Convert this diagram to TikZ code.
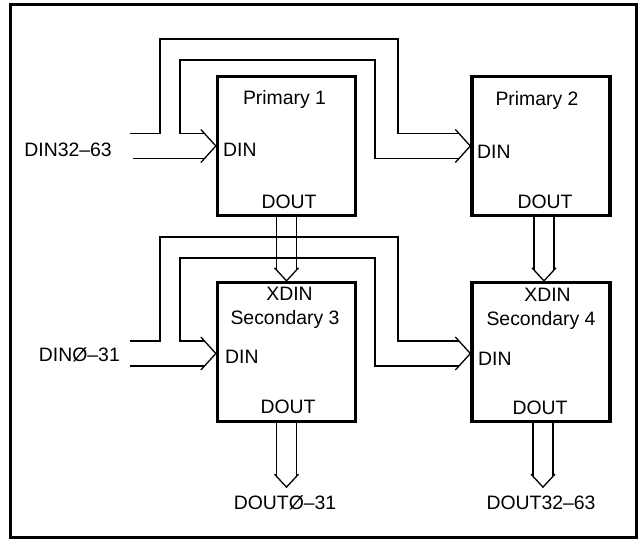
\documentclass[tikz,border=0pt]{standalone}
\usepackage{fontspec}
\setmainfont{Liberation Sans}
\usetikzlibrary{calc}

\tikzset{
  unit/.style={draw, line width=3.3pt, minimum width=138pt, minimum height=139pt, inner sep=0pt},
  lbl/.style={inner sep=0pt, font=\fontsize{19.4pt}{23pt}\selectfont},
  bus/.style={line width=1.3pt},
  frame/.style={line width=2.5pt}
}
% open arrow heads of the buses
\newcommand{\headE}[1]{\draw[bus] ($(#1)+(-15,-16.5)$) -- (#1) -- ($(#1)+(-15,16.5)$);}
\newcommand{\headS}[1]{\draw[bus] ($(#1)+(-12,-13)$) -- (#1) -- ($(#1)+(12,-13)$);}

\begin{document}
\begin{tikzpicture}[x=1pt, y=-1pt]
    \useasboundingbox (0,0) rectangle (641,539);
    \draw[frame] (10.5,4.7) rectangle (636.7,537.5);
    % Units
    \node[unit] (p1) at (286.5,146) {};
    \node[unit] (p2) at (541,146) {};
    \node[unit] (s3) at (286.5,352) {};
    \node[unit] (s4) at (541,352) {};
    % Labels
    \node[lbl, anchor=base] (p1name) at (284.5,104) {Primary 1};
    \node[lbl, anchor=base] (p2name) at (537,105) {Primary 2};
    \node[lbl, anchor=base west] (p1din) at (223,156) {DIN};
    \node[lbl, anchor=base west] (p2din) at (477,158) {DIN};
    \node[lbl, anchor=base] (p1dout) at (289,208) {DOUT};
    \node[lbl, anchor=base] (p2dout) at (545,208) {DOUT};
    \node[lbl, anchor=base] (s3xdin) at (289.5,300) {XDIN};
    \node[lbl, anchor=base] (s4xdin) at (547.5,301) {XDIN};
    \node[lbl, anchor=base] (s3name) at (285,324) {Secondary 3};
    \node[lbl, anchor=base] (s4name) at (541,325) {Secondary 4};
    \node[lbl, anchor=base west] (s3din) at (225,363) {DIN};
    \node[lbl, anchor=base west] (s4din) at (478,365) {DIN};
    \node[lbl, anchor=base] (s3dout) at (288,413) {DOUT};
    \node[lbl, anchor=base] (s4dout) at (540,414) {DOUT};
    \node[lbl, anchor=base east] (dinhi) at (112,156) {DIN32–63};
    \node[lbl, anchor=base east] (dinlo) at (120,361) {DINØ–31};
    \node[lbl, anchor=base] (doutlo) at (285,509) {DOUTØ–31};
    \node[lbl, anchor=base] (douthi) at (541,509) {DOUT32–63};
    % Bus end points
    \coordinate (p1in) at (p1.west);
    \coordinate (p2in) at (p2.west);
    \coordinate (s3in) at ([yshift=-1.5pt]s3.west);
    \coordinate (s4in) at ([yshift=-1.5pt]s4.west);
    \coordinate (p1out) at (p1.south);
    \coordinate (p2out) at ([xshift=3pt]p2.south);
    \coordinate (s3top) at (s3.north);
    \coordinate (s4top) at ([xshift=3pt]s4.north);
    \coordinate (s3out) at (s3.south);
    \coordinate (s4out) at ([xshift=2pt]s4.south);
    \coordinate (s3end) at ([yshift=-64pt]s3out);
    \coordinate (s4end) at ([yshift=-64pt]s4out);
    \coordinate (dinhia) at (130,133.5);
    \coordinate (dinhib) at (133,158.5);
    \coordinate (dinloa) at (130,341);
    \coordinate (dinlob) at (130,366);
    % DIN32-63 bus
    \draw[bus] (dinhia) -- (160,133.5) |- (398,39) |- ($(p2in)+(-11.4,-12.5)$);
    \draw[bus] ($(p1in)+(-11.4,-12.5)$) -| (180,60) -- (375,60) |- ($(p2in)+(-11.4,12.5)$);
    \draw[bus] (dinhib) -- ($(p1in)+(-11.4,12.5)$);
    \headE{p1in}
    \headE{p2in}
    % DIN0-31 bus
    \draw[bus] (dinloa) -- (160,341) |- (398,237) |- ($(s4in)+(-11.4,-12.5)$);
    \draw[bus] ($(s3in)+(-11.4,-12.5)$) -| (180,258) -- (375,258) |- ($(s4in)+(-11.4,12.5)$);
    \draw[bus] (dinlob) -- ($(s3in)+(-11.4,12.5)$);
    \headE{s3in}
    \headE{s4in}
    % DOUT to XDIN
    \draw[bus] ($(p1out)+(-10,0)$) -- ($(s3top)+(-10,-10.8)$);
    \draw[bus] ($(p1out)+(10,0)$) -- ($(s3top)+(10,-10.8)$);
    \headS{s3top}
    \draw[bus] ($(p2out)+(-10,0)$) -- ($(s4top)+(-10,-10.8)$);
    \draw[bus] ($(p2out)+(10,0)$) -- ($(s4top)+(10,-10.8)$);
    \headS{s4top}
    % Outputs
    \draw[bus] ($(s3out)+(-10,0)$) -- ($(s3end)+(-10,-10.8)$);
    \draw[bus] ($(s3out)+(10,0)$) -- ($(s3end)+(10,-10.8)$);
    \headS{s3end}
    \draw[bus] ($(s4out)+(-10,0)$) -- ($(s4end)+(-10,-10.8)$);
    \draw[bus] ($(s4out)+(10,0)$) -- ($(s4end)+(10,-10.8)$);
    \headS{s4end}
\end{tikzpicture}
\end{document}
